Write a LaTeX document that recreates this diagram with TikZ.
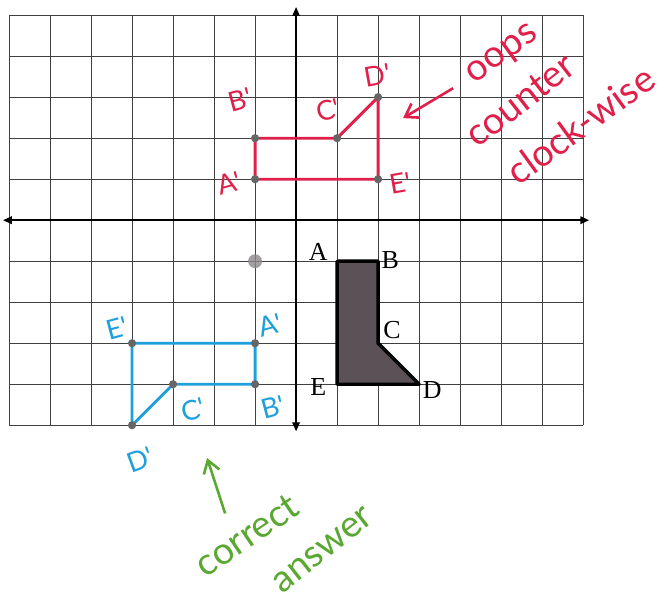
\documentclass[tikz,border=0pt]{standalone}
\usepackage{fontspec}
\setmainfont{Liberation Serif}
\newfontfamily\hand{Lato}
\usetikzlibrary{arrows.meta}

\definecolor{rojo}{HTML}{E0204A}
\definecolor{azul}{HTML}{1FA0DC}
\definecolor{verde}{HTML}{5AA832}
\definecolor{gris}{HTML}{5B5258}

\begin{document}
\begin{tikzpicture}[line width=0.9pt,>={Triangle[length=2.2mm,width=1.8mm]},
  etiq/.style={font=\fontsize{18}{18}\selectfont},
  mano/.style={font=\hand\fontsize{19}{19}\selectfont},
  nota/.style={font=\hand\fontsize{26}{26}\selectfont,inner sep=0pt},
  punto/.style={fill=black!60,draw=none}]
  \useasboundingbox (-7.22,-9.34) rectangle (9.07,5.37);
  % cuadricula y ejes
  \draw[black!75,line width=0.6pt] (-7,-5) grid (7,5);
  \coordinate (xl) at (-7.15,0); \coordinate (xr) at (7.15,0);
  \coordinate (yb) at (0,-5.15); \coordinate (yt) at (0,5.2);
  \draw[<->,line width=1.5pt] (xl)--(xr);
  \draw[<->,line width=1.3pt] (yb)--(yt);
  % figura original
  \coordinate (A) at (1,-1); \coordinate (B) at (2,-1); \coordinate (C) at (2,-3);
  \coordinate (D) at (3,-4); \coordinate (E) at (1,-4);
  \draw[fill=gris,line width=2.4pt,line join=round] (A)--(B)--(C)--(D)--(E)--cycle;
  \node[etiq] (lA) at (0.54,-0.78){A}; \node[etiq] (lB) at (2.3,-0.98){B};
  \node[etiq] (lC) at (2.34,-2.68){C}; \node[etiq] (lD) at (3.32,-4.15){D};
  \node[etiq] (lE) at (0.54,-4.07){E};
  \fill[gris!70,opacity=0.8] (-1,-1) circle (0.17);
  % giro equivocado
  \coordinate (rA) at (-1,1); \coordinate (rB) at (-1,2); \coordinate (rC) at (1,2);
  \coordinate (rD) at (2,3); \coordinate (rE) at (2,1);
  \draw[rojo,line width=2pt] (rA)--(rB)--(rC)--(rD)--(rE)--cycle;
  \foreach \p in {rA,rB,rC,rD,rE} \fill[punto] (\p) circle (0.1);
  \node[mano,rojo,rotate=15] (tB) at (-1.37,2.93){B'}; \node[mano,rojo,rotate=15] (tA) at (-1.63,0.9){A'};
  \node[mano,rojo,rotate=15] (tC) at (0.78,2.68){C'}; \node[mano,rojo,rotate=10] (tD) at (1.98,3.54){D'};
  \node[mano,rojo,rotate=10] (tE) at (2.54,0.9){E'};
  \node[nota,rojo,rotate=36] (oops) at (5.05,4.02){oops};
  \node[nota,rojo,rotate=38] (counter) at (5.47,2.93){counter};
  \node[nota,rojo,rotate=36] (clock) at (6.93,2.33){clock-wise};
  \coordinate (f1) at (3.83,3.22); \coordinate (f2) at (2.61,2.49);
  \draw[->,rojo,line width=1.8pt,>={Straight Barb[length=3mm,width=4mm]}] (f1)--(f2);
  % respuesta correcta
  \coordinate (bA) at (-1,-3); \coordinate (bB) at (-1,-4); \coordinate (bC) at (-3,-4);
  \coordinate (bD) at (-4,-5); \coordinate (bE) at (-4,-3);
  \draw[azul,line width=2pt] (bA)--(bB)--(bC)--(bD)--(bE)--cycle;
  \foreach \p in {bA,bB,bC,bD,bE} \fill[punto] (\p) circle (0.1);
  \node[mano,azul,rotate=15] (sE) at (-4.37,-2.63){E'}; \node[mano,azul,rotate=15] (sA) at (-0.63,-2.56){A'};
  \node[mano,azul,rotate=15] (sC) at (-2.51,-4.63){C'}; \node[mano,azul,rotate=15] (sB) at (-0.56,-4.56){B'};
  \node[mano,azul,rotate=20] (sD) at (-3.8,-5.85){D'};
  \coordinate (g1) at (-1.73,-7.15); \coordinate (g2) at (-2.17,-5.8);
  \draw[->,verde,line width=1.8pt,>={Straight Barb[length=3mm,width=4mm]}] (g1)--(g2);
  \node[nota,verde,rotate=34] (correct) at (-1.2,-7.68){correct};
  \node[nota,verde,rotate=38] (answer) at (0.66,-8.05){answer};
\end{tikzpicture}
\end{document}
